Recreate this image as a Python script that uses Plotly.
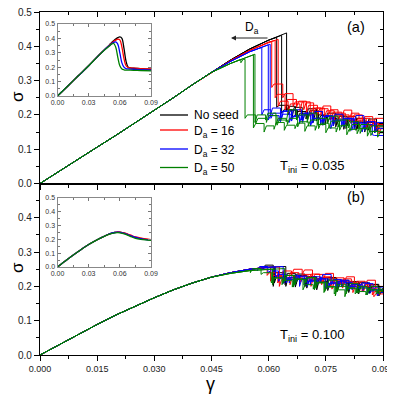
import plotly.graph_objects as go

# ---- data ----
gamma_rise = [0, 0.005, 0.01, 0.015, 0.02, 0.025, 0.03, 0.035, 0.04, 0.045]
sig_rise_a = [0, 0.036, 0.071, 0.106, 0.141, 0.177, 0.213, 0.25, 0.288, 0.324]
sig_rise_b = [0, 0.03, 0.06, 0.089, 0.117, 0.143, 0.167, 0.19, 0.21, 0.227]
gamma_tail = [0.05, 0.055, 0.06, 0.065]
tail_a_black = [0.36, 0.392, 0.418, 0.44]
tail_a_red = [0.358, 0.388, 0.412, 0.428]
tail_a_blue = [0.356, 0.384, 0.405, 0.42]
tail_a_green = [0.35, 0.372, 0.39, 0.4]
tail_b_black = [0.24, 0.25, 0.256, 0.258]
tail_b_red = [0.24, 0.25, 0.256, 0.258]
tail_b_blue = [0.24, 0.25, 0.256, 0.258]
tail_b_green = [0.238, 0.246, 0.25, 0.252]

# avalanche runs: strain of each drop, stress before / after it, stress at 0.09
# T_ini = 0.035
a_black = [
    ([0.0621, 0.0652, 0.0676, 0.0702, 0.0731, 0.0754, 0.0779, 0.0806, 0.0833, 0.0861, 0.0884],
     [0.426, 0.228, 0.214, 0.205, 0.212, 0.198, 0.19, 0.196, 0.182, 0.178, 0.17],
     [0.222, 0.2, 0.19, 0.186, 0.184, 0.176, 0.172, 0.168, 0.16, 0.155, 0.152], 0.165),
    ([0.0634, 0.0661, 0.0688, 0.0717, 0.0741, 0.077, 0.0797, 0.0825, 0.0852, 0.0878],
     [0.432, 0.215, 0.222, 0.2, 0.21, 0.195, 0.2, 0.185, 0.19, 0.178],
     [0.205, 0.19, 0.18, 0.178, 0.17, 0.168, 0.158, 0.162, 0.15, 0.148], 0.17),
    ([0.0647, 0.067, 0.0698, 0.0725, 0.0748, 0.0776, 0.0803, 0.0829, 0.0857, 0.0883],
     [0.439, 0.225, 0.21, 0.218, 0.2, 0.205, 0.188, 0.195, 0.182, 0.188],
     [0.212, 0.195, 0.188, 0.182, 0.172, 0.165, 0.16, 0.155, 0.158, 0.16], 0.175),
]
a_red = [
    ([0.0608, 0.0637, 0.0664, 0.0692, 0.0718, 0.0746, 0.0772, 0.0801, 0.0828, 0.0856, 0.0881],
     [0.414, 0.29, 0.262, 0.238, 0.235, 0.22, 0.212, 0.205, 0.196, 0.19, 0.182],
     [0.28, 0.25, 0.225, 0.215, 0.2, 0.192, 0.186, 0.178, 0.17, 0.162, 0.158], 0.172),
    ([0.0617, 0.0643, 0.0673, 0.0699, 0.0728, 0.0756, 0.0782, 0.0811, 0.0837, 0.0866, 0.0889],
     [0.417, 0.26, 0.245, 0.24, 0.228, 0.218, 0.215, 0.2, 0.205, 0.19, 0.175],
     [0.25, 0.215, 0.222, 0.205, 0.198, 0.195, 0.18, 0.182, 0.165, 0.158, 0.145], 0.16),
    ([0.0625, 0.0651, 0.0682, 0.0709, 0.0737, 0.0763, 0.0792, 0.0818, 0.0846, 0.0873],
     [0.42, 0.24, 0.232, 0.238, 0.22, 0.226, 0.208, 0.214, 0.2, 0.195],
     [0.225, 0.205, 0.21, 0.195, 0.2, 0.185, 0.19, 0.175, 0.18, 0.17], 0.19),
]
a_blue = [
    ([0.0582, 0.0606, 0.0633, 0.066, 0.0689, 0.0715, 0.0743, 0.0769, 0.0797, 0.0824, 0.0852, 0.0879],
     [0.397, 0.215, 0.205, 0.212, 0.198, 0.205, 0.19, 0.198, 0.185, 0.19, 0.176, 0.18],
     [0.2, 0.19, 0.188, 0.182, 0.178, 0.176, 0.17, 0.168, 0.165, 0.158, 0.155, 0.148], 0.16),
    ([0.0599, 0.0627, 0.0654, 0.0681, 0.071, 0.0736, 0.0763, 0.0791, 0.0818, 0.0845, 0.0872],
     [0.404, 0.198, 0.21, 0.195, 0.2, 0.19, 0.196, 0.183, 0.19, 0.178, 0.172],
     [0.185, 0.182, 0.178, 0.175, 0.168, 0.172, 0.16, 0.165, 0.155, 0.15, 0.142], 0.14),
    ([0.0604, 0.0631, 0.0659, 0.0686, 0.0714, 0.0741, 0.0768, 0.0795, 0.0823, 0.085, 0.0878],
     [0.406, 0.22, 0.202, 0.215, 0.205, 0.21, 0.195, 0.202, 0.188, 0.198, 0.18],
     [0.195, 0.18, 0.19, 0.185, 0.18, 0.175, 0.178, 0.17, 0.175, 0.162, 0.158], 0.178),
]
a_green = [
    ([0.0527, 0.0538, 0.0566, 0.0594, 0.0622, 0.0649, 0.0676, 0.0704, 0.0731, 0.0758, 0.0786, 0.0813, 0.084, 0.0868],
     [0.362, 0.362, 0.2, 0.19, 0.198, 0.185, 0.19, 0.18, 0.185, 0.176, 0.182, 0.17, 0.172, 0.162],
     [0.352, 0.19, 0.175, 0.178, 0.17, 0.172, 0.165, 0.168, 0.16, 0.162, 0.155, 0.152, 0.146, 0.14], 0.152),
    ([0.056, 0.0588, 0.0614, 0.0641, 0.0669, 0.0695, 0.0722, 0.075, 0.0777, 0.0805, 0.0832, 0.0859, 0.0886],
     [0.375, 0.175, 0.168, 0.178, 0.17, 0.176, 0.168, 0.172, 0.162, 0.168, 0.158, 0.16, 0.152],
     [0.162, 0.15, 0.158, 0.155, 0.16, 0.152, 0.155, 0.148, 0.15, 0.142, 0.145, 0.138, 0.135], 0.148),
    ([0.0564, 0.0592, 0.0619, 0.0646, 0.0673, 0.0701, 0.0727, 0.0754, 0.0782, 0.0809, 0.0836, 0.0864],
     [0.377, 0.2, 0.205, 0.19, 0.215, 0.2, 0.205, 0.19, 0.196, 0.185, 0.18, 0.172],
     [0.178, 0.185, 0.172, 0.18, 0.185, 0.178, 0.172, 0.175, 0.165, 0.162, 0.158, 0.15], 0.168),
]
# T_ini = 0.100
b_black = [
    ([0.0585, 0.0612, 0.064, 0.0668, 0.0695, 0.0722, 0.075, 0.0777, 0.0805, 0.0833, 0.086, 0.0887],
     [0.254, 0.262, 0.24, 0.232, 0.236, 0.228, 0.222, 0.226, 0.215, 0.21, 0.212, 0.205],
     [0.25, 0.2, 0.21, 0.208, 0.2, 0.205, 0.192, 0.19, 0.188, 0.182, 0.185, 0.178], 0.19),
    ([0.0615, 0.0643, 0.067, 0.0698, 0.0726, 0.0753, 0.078, 0.0808, 0.0836, 0.0863, 0.0889],
     [0.257, 0.23, 0.238, 0.222, 0.228, 0.215, 0.222, 0.21, 0.214, 0.2, 0.206],
     [0.21, 0.205, 0.198, 0.2, 0.19, 0.195, 0.185, 0.188, 0.178, 0.18, 0.172], 0.182),
    ([0.0645, 0.0672, 0.07, 0.0727, 0.0755, 0.0783, 0.081, 0.0838, 0.0865, 0.0892],
     [0.258, 0.225, 0.232, 0.218, 0.225, 0.21, 0.218, 0.205, 0.21, 0.2],
     [0.2, 0.208, 0.195, 0.2, 0.188, 0.195, 0.182, 0.19, 0.18, 0.185], 0.195),
]
b_red = [
    ([0.0605, 0.0632, 0.066, 0.0688, 0.0715, 0.0743, 0.077, 0.0798, 0.0825, 0.0853, 0.088],
     [0.256, 0.232, 0.245, 0.25, 0.248, 0.235, 0.238, 0.225, 0.228, 0.215, 0.218],
     [0.215, 0.225, 0.232, 0.235, 0.22, 0.215, 0.205, 0.208, 0.195, 0.2, 0.19], 0.2),
    ([0.0628, 0.0656, 0.0684, 0.0711, 0.0739, 0.0766, 0.0794, 0.0821, 0.0849, 0.0876],
     [0.257, 0.22, 0.228, 0.235, 0.222, 0.228, 0.21, 0.215, 0.2, 0.205],
     [0.2, 0.205, 0.212, 0.2, 0.205, 0.192, 0.195, 0.182, 0.185, 0.17], 0.178),
    ([0.0596, 0.0624, 0.0651, 0.0679, 0.0706, 0.0734, 0.0762, 0.079, 0.0817, 0.0845, 0.0872],
     [0.256, 0.24, 0.225, 0.24, 0.23, 0.236, 0.225, 0.218, 0.222, 0.21, 0.2],
     [0.232, 0.21, 0.215, 0.22, 0.215, 0.21, 0.2, 0.205, 0.192, 0.185, 0.175], 0.185),
]
b_blue = [
    ([0.057, 0.0598, 0.0626, 0.0654, 0.0681, 0.0709, 0.0736, 0.0764, 0.0791, 0.0819, 0.0847, 0.0874],
     [0.252, 0.258, 0.245, 0.225, 0.232, 0.222, 0.228, 0.235, 0.22, 0.212, 0.205, 0.208],
     [0.245, 0.24, 0.215, 0.21, 0.2, 0.205, 0.21, 0.205, 0.198, 0.19, 0.188, 0.185], 0.198),
    ([0.0618, 0.0646, 0.0673, 0.0701, 0.0728, 0.0756, 0.0783, 0.0811, 0.0838, 0.0866],
     [0.257, 0.235, 0.225, 0.23, 0.218, 0.222, 0.212, 0.218, 0.205, 0.21],
     [0.225, 0.21, 0.215, 0.2, 0.205, 0.195, 0.2, 0.19, 0.192, 0.18], 0.19),
    ([0.0638, 0.0665, 0.0693, 0.072, 0.0748, 0.0776, 0.0803, 0.083, 0.0858, 0.0885],
     [0.258, 0.22, 0.228, 0.215, 0.222, 0.208, 0.215, 0.2, 0.198, 0.19],
     [0.208, 0.2, 0.205, 0.195, 0.19, 0.195, 0.185, 0.182, 0.175, 0.172], 0.182),
]
b_green = [
    ([0.0552, 0.058, 0.0607, 0.0635, 0.0662, 0.069, 0.0717, 0.0745, 0.0772, 0.08, 0.0827, 0.0855, 0.0882],
     [0.246, 0.252, 0.24, 0.225, 0.218, 0.222, 0.205, 0.21, 0.198, 0.19, 0.195, 0.185, 0.19],
     [0.24, 0.235, 0.21, 0.205, 0.198, 0.19, 0.192, 0.182, 0.178, 0.17, 0.178, 0.175, 0.178], 0.188),
    ([0.061, 0.0637, 0.0665, 0.0693, 0.072, 0.0747, 0.0775, 0.0803, 0.083, 0.0858, 0.0885],
     [0.251, 0.225, 0.232, 0.22, 0.226, 0.212, 0.2, 0.205, 0.195, 0.2, 0.19],
     [0.205, 0.21, 0.198, 0.205, 0.19, 0.185, 0.172, 0.178, 0.182, 0.175, 0.18], 0.192),
    ([0.0642, 0.0669, 0.0697, 0.0724, 0.0752, 0.0779, 0.0807, 0.0834, 0.0862, 0.0889],
     [0.252, 0.232, 0.22, 0.225, 0.212, 0.218, 0.2, 0.208, 0.195, 0.2],
     [0.215, 0.205, 0.21, 0.195, 0.2, 0.185, 0.188, 0.18, 0.185, 0.178], 0.185),
]

# averaged curves for the insets
inset_gamma_a = [0, 0.01, 0.02, 0.03, 0.04, 0.045, 0.05, 0.052, 0.054, 0.056, 0.058, 0.06,
                 0.062, 0.064, 0.066, 0.068, 0.07, 0.075, 0.08, 0.09]
inset_a_black = [0, 0.07, 0.14, 0.21, 0.285, 0.32, 0.355, 0.37, 0.383, 0.395, 0.405, 0.41,
                 0.4, 0.33, 0.24, 0.2, 0.195, 0.192, 0.19, 0.185]
inset_a_red = [0, 0.07, 0.14, 0.21, 0.285, 0.32, 0.353, 0.366, 0.378, 0.388, 0.395, 0.39,
               0.34, 0.26, 0.21, 0.198, 0.195, 0.193, 0.19, 0.188]
inset_a_blue = [0, 0.07, 0.14, 0.21, 0.285, 0.32, 0.35, 0.362, 0.372, 0.376, 0.36, 0.3,
                0.23, 0.2, 0.19, 0.188, 0.187, 0.185, 0.183, 0.18]
inset_a_green = [0, 0.07, 0.14, 0.21, 0.284, 0.318, 0.348, 0.36, 0.365, 0.34, 0.27, 0.21,
                 0.188, 0.182, 0.18, 0.18, 0.179, 0.178, 0.177, 0.175]
inset_gamma_b = [0, 0.01, 0.02, 0.03, 0.04, 0.045, 0.05, 0.055, 0.058, 0.06, 0.065, 0.07,
                 0.075, 0.08, 0.085, 0.09]
inset_b_black = [0, 0.058, 0.112, 0.163, 0.205, 0.223, 0.24, 0.25, 0.253, 0.252, 0.243, 0.228,
                 0.215, 0.207, 0.2, 0.197]
inset_b_red = [0, 0.058, 0.112, 0.163, 0.205, 0.223, 0.24, 0.251, 0.254, 0.253, 0.245, 0.232,
               0.218, 0.21, 0.203, 0.198]
inset_b_blue = [0, 0.058, 0.112, 0.163, 0.205, 0.223, 0.24, 0.25, 0.252, 0.251, 0.242, 0.228,
                0.214, 0.206, 0.199, 0.196]
inset_b_green = [0, 0.058, 0.112, 0.163, 0.204, 0.222, 0.238, 0.247, 0.249, 0.248, 0.238, 0.222,
                 0.208, 0.2, 0.196, 0.194]

labels = ["No seed", "D<sub>a</sub> = 16", "D<sub>a</sub> = 32", "D<sub>a</sub> = 50"]
colors = ["#000000", "#ff0000", "#0000ff", "#008000"]

KNEE = 0.0006
FONT = "Liberation Sans, Arial, sans-serif"
# the page has an 8px body margin, so the figure is 387px and starts at (8, 8)
OFF = 8
SIZE = 395 - OFF


def fx(p):
    return (p - OFF) / SIZE


def fy(p):
    return 1 - (p - OFF) / SIZE


def run_path(base_g, base_s, drops, hi, lo, end):
    xs = [g for g in base_g if g < drops[0]]
    ys = base_s[:len(xs)]
    xs = xs + [drops[0], drops[0]]
    ys = ys + [hi[0], lo[0]]
    for k in range(1, len(drops)):
        xs += [drops[k - 1] + KNEE, drops[k], drops[k]]
        ys += [hi[k], hi[k], lo[k]]
    xs += [drops[-1] + KNEE, 0.09]
    ys += [end, end]
    return xs, ys


fig = go.Figure()

panels = [
    ("x", "y", sig_rise_a, [tail_a_black, tail_a_red, tail_a_blue, tail_a_green],
     [a_black, a_red, a_blue, a_green]),
    ("x2", "y2", sig_rise_b, [tail_b_black, tail_b_red, tail_b_blue, tail_b_green],
     [b_black, b_red, b_blue, b_green]),
]
for xa, ya, rise, tails, runs in panels:
    for color, tail, group in zip(colors, tails, runs):
        base_g = gamma_rise + gamma_tail
        base_s = rise + tail
        for drops, hi, lo, end in group:
            xs, ys = run_path(base_g, base_s, drops, hi, lo, end)
            fig.add_trace(go.Scatter(x=xs, y=ys, mode="lines", xaxis=xa, yaxis=ya,
                                     line=dict(color=color, width=1), showlegend=False,
                                     hoverinfo="skip"))

for color, s in zip(colors, [inset_a_black, inset_a_red, inset_a_blue, inset_a_green]):
    fig.add_trace(go.Scatter(x=inset_gamma_a, y=s, mode="lines", xaxis="x3", yaxis="y3",
                             line=dict(color=color, width=1.3, shape="spline"), showlegend=False))
for color, s in zip(colors, [inset_b_black, inset_b_red, inset_b_blue, inset_b_green]):
    fig.add_trace(go.Scatter(x=inset_gamma_b, y=s, mode="lines", xaxis="x4", yaxis="y4",
                             line=dict(color=color, width=1.3, shape="spline"), showlegend=False))

# empty traces so the tick-only overlay axes get drawn
fig.add_trace(go.Scatter(x=[], y=[], xaxis="x5", yaxis="y5", showlegend=False))
fig.add_trace(go.Scatter(x=[], y=[], xaxis="x2", yaxis="y6", showlegend=False))

XDOM = [fx(40), fx(383)]
TOP = [fy(183.5), fy(12)]
BOT = [fy(355), fy(183.5)]
IX = [fx(57.5), fx(151)]
IY_A = [fy(96), fy(24)]
IY_B = [fy(267), fy(198)]

main_x = dict(range=[0, 0.09], tickvals=[0, 0.015, 0.03, 0.045, 0.06, 0.075, 0.09],
              tickformat=".3f", ticks="outside", ticklen=5, tickwidth=1, tickcolor="black",
              minor=dict(ticks="outside", ticklen=3, dtick=0.0075, tick0=0, tickcolor="black"),
              showline=True, linecolor="black", linewidth=1.2, mirror=True,
              showgrid=False, zeroline=False, domain=XDOM, automargin=False,
              ticklabeloverflow="allow",
              tickfont=dict(family=FONT, size=9, color="#222"))
main_y = dict(range=[0, 0.5], tickformat=".1f", ticks="outside", ticklen=5, tickwidth=1,
              tickcolor="black",
              minor=dict(ticks="outside", ticklen=3, dtick=0.05, tick0=0, tickcolor="black"),
              showline=True, linecolor="black", linewidth=1.2, mirror=True,
              showgrid=False, zeroline=False, automargin=False, ticklabeloverflow="allow",
              tickfont=dict(family=FONT, size=10, color="#222"))
inset_x = dict(range=[0, 0.09], tickvals=[0, 0.03, 0.06, 0.09], tickformat=".2f",
               ticks="inside", ticklen=3, tickcolor="#777",
               minor=dict(ticks="inside", ticklen=2, dtick=0.015, tick0=0, tickcolor="#777"),
               showline=True, linecolor="#888", linewidth=1, mirror="allticks",
               showgrid=False, zeroline=False, domain=IX, automargin=False,
               tickfont=dict(family=FONT, size=7, color="#333"))
inset_y = dict(range=[0, 0.5], dtick=0.1, tickformat=".1f", ticks="inside", ticklen=3,
               tickcolor="#777",
               minor=dict(ticks="inside", ticklen=2, dtick=0.05, tick0=0, tickcolor="#777"),
               showline=True, linecolor="#888", linewidth=1, mirror="allticks",
               showgrid=False, zeroline=False, automargin=False,
               tickfont=dict(family=FONT, size=7, color="#333"))
over_y = dict(range=[0, 0.5], dtick=0.1, ticks="inside", ticklen=5, tickcolor="black",
              minor=dict(ticks="inside", ticklen=3, dtick=0.05, tick0=0, tickcolor="black"),
              showticklabels=False, showline=False, showgrid=False, zeroline=False,
              side="right", automargin=False)

fig.update_layout(
    width=SIZE, height=SIZE,
    margin=dict(l=0, r=0, t=0, b=0, autoexpand=False),
    paper_bgcolor="white", plot_bgcolor="white",
    font=dict(family=FONT, color="black"),
    xaxis=dict(main_x, anchor="y", showticklabels=False),
    yaxis=dict(main_y, anchor="x", domain=TOP),
    xaxis2=dict(main_x, anchor="y2"),
    yaxis2=dict(main_y, anchor="x2", domain=BOT, tickvals=[0, 0.1, 0.2, 0.3, 0.4]),
    xaxis3=dict(inset_x, anchor="y3"),
    yaxis3=dict(inset_y, anchor="x3", domain=IY_A),
    xaxis4=dict(inset_x, anchor="y4"),
    yaxis4=dict(inset_y, anchor="x4", domain=IY_B),
    xaxis5=dict(range=[0, 0.09], dtick=0.015, tick0=0, ticks="inside", ticklen=5,
                tickcolor="black",
                minor=dict(ticks="inside", ticklen=3, dtick=0.0075, tick0=0, tickcolor="black"),
                showticklabels=False, showline=False, showgrid=False, zeroline=False,
                side="top", overlaying="x", anchor="y", automargin=False),
    yaxis5=dict(over_y, overlaying="y", anchor="x"),
    yaxis6=dict(over_y, overlaying="y2", anchor="x2"),
)

ann = []
# legend drawn by hand
legend_y = [115, 130, 149, 167.5]
for lab, col, ly in zip(labels, colors, legend_y):
    fig.add_shape(type="line", xref="paper", yref="paper", x0=fx(160), x1=fx(188),
                  y0=fy(ly), y1=fy(ly), line=dict(color=col, width=1.3))
    ann.append(dict(x=fx(192), y=fy(ly + (2 if "sub" in lab else 0)), text=lab,
                    xanchor="left", yanchor="middle", font=dict(size=12)))

for text, (x, y), size, angle in [
    ("(a)", (356, 27), 14.5, 0),
    ("(b)", (356, 197), 14.5, 0),
    ("T<sub>ini</sub> = 0.035", (312, 166), 13, 0),
    ("T<sub>ini</sub> = 0.100", (312, 335), 13, 0),
    ("D<sub>a</sub>", (252, 28), 12, 0),
    ("σ", (17, 97), 17, -90),
    ("σ", (17, 268), 17, -90),
    ("γ", (210, 384), 18, 0),
]:
    ann.append(dict(x=fx(x), y=fy(y), text=text, xanchor="center", yanchor="middle",
                    textangle=angle, font=dict(size=size)))

ann.append(dict(x=fx(231), y=fy(38), text="", showarrow=True, ax=38, ay=0, arrowhead=2,
                arrowsize=1, arrowwidth=1, arrowcolor="#222"))

for a in ann:
    a.setdefault("showarrow", False)
    a["xref"] = "paper"
    a["yref"] = "paper"
fig.update_layout(annotations=ann)

fig.write_html("out.html")
